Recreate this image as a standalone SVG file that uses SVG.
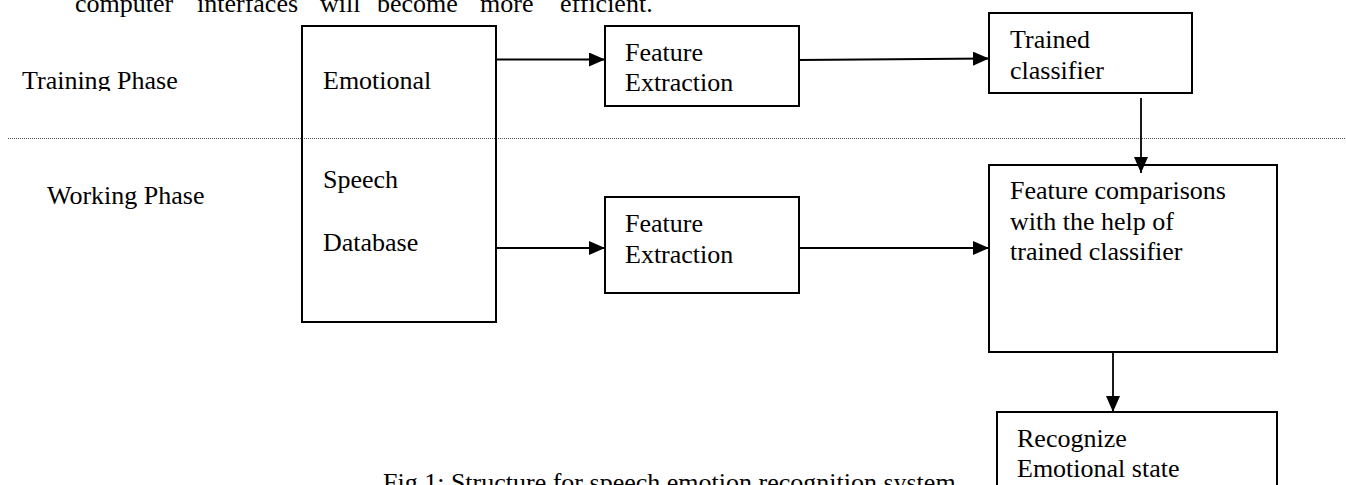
<svg xmlns="http://www.w3.org/2000/svg" width="1346" height="485" viewBox="0 0 1346 485">
<style>
text{font-family:"Liberation Serif","Times New Roman",serif;font-size:26px;fill:#000}
.box{fill:none;stroke:#000;stroke-width:2}
.conn{stroke:#000;stroke-width:1.8;fill:none}
</style>
<defs>
<marker id="ah" viewBox="0 0 16 14" refX="16" refY="7" markerWidth="16" markerHeight="14" markerUnits="userSpaceOnUse" orient="auto">
<path d="M0,0 L16,7 L0,14 Z" fill="#000"/>
</marker>
<clipPath id="clipTP"><rect x="0" y="40" width="300" height="51"/></clipPath>
</defs>
<rect width="1346" height="485" fill="#fff"/>
<g id="bodytext">
<text x="75" y="11.5">computer</text>
<text x="197" y="11.5">interfaces</text>
<text x="320" y="11.5">will</text>
<text x="377" y="11.5">become</text>
<text x="480" y="11.5">more</text>
<text x="560" y="11.5">efficient.</text>
</g>
<line x1="8" y1="138.5" x2="1346" y2="138.5" stroke="#555" stroke-width="1" stroke-dasharray="1 1"/>
<g id="phase-training"><text x="22" y="89" clip-path="url(#clipTP)">Training Phase</text></g>
<g id="phase-working"><text x="47" y="204">Working Phase</text></g>
<g id="database">
<rect class="box" x="302" y="26" width="194" height="296"/>
<text x="323" y="89">Emotional</text>
<text x="323" y="188">Speech</text>
<text x="323" y="251">Database</text>
</g>
<g id="fe-train">
<rect class="box" x="605" y="26" width="194" height="80"/>
<text x="625" y="61">Feature</text>
<text x="625" y="91">Extraction</text>
</g>
<g id="trained">
<rect class="box" x="989" y="13" width="203" height="80"/>
<text x="1010" y="48">Trained</text>
<text x="1010" y="79">classifier</text>
</g>
<g id="fe-work">
<rect class="box" x="605" y="197" width="194" height="96"/>
<text x="625" y="232">Feature</text>
<text x="625" y="263">Extraction</text>
</g>
<g id="compare">
<rect class="box" x="989" y="165" width="288" height="187"/>
<text x="1010" y="199">Feature comparisons</text>
<text x="1010" y="230">with the help of</text>
<text x="1010" y="260">trained classifier</text>
</g>
<g id="recognize">
<rect class="box" x="997" y="412" width="280" height="90"/>
<text x="1017" y="447">Recognize</text>
<text x="1017" y="477">Emotional state</text>
</g>
<g id="connectors">
<line class="conn" x1="496" y1="59.5" x2="605" y2="59.5" marker-end="url(#ah)"/>
<line class="conn" x1="799" y1="60" x2="989" y2="58.5" marker-end="url(#ah)"/>
<line class="conn" x1="1141" y1="98" x2="1141" y2="173" marker-end="url(#ah)"/>
<line class="conn" x1="496" y1="248" x2="605" y2="248" marker-end="url(#ah)"/>
<line class="conn" x1="799" y1="248" x2="989" y2="248" marker-end="url(#ah)"/>
<line class="conn" x1="1113" y1="352" x2="1113" y2="412" marker-end="url(#ah)"/>
</g>
<g id="caption"><text x="383" y="491">Fig 1: Structure for speech emotion recognition system</text></g>
</svg>
